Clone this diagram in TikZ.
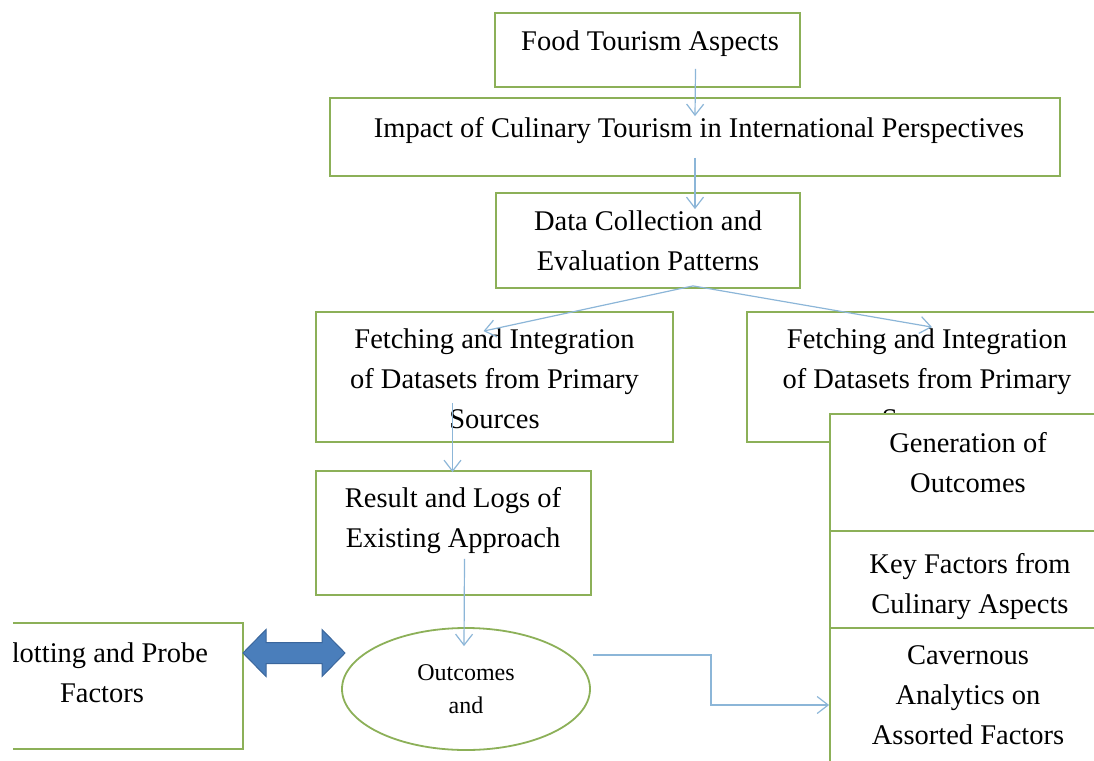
\documentclass[tikz,border=0pt]{standalone}
\usepackage{fontspec}
\setmainfont{Liberation Serif}
\usetikzlibrary{calc,arrows.meta,shapes.geometric}
\definecolor{boxgreen}{RGB}{140,176,88}
\definecolor{linkblue}{RGB}{140,182,216}
\definecolor{fatblue}{RGB}{74,126,187}
\definecolor{fatedge}{RGB}{58,102,156}
\tikzset{
	box/.style={draw=boxgreen, line width=1.8pt, fill=white, inner sep=0pt},
	txt/.style={anchor=north, align=center, inner sep=0pt, font=\fontsize{28.5}{40}\selectfont},
	link/.style={draw=linkblue, line width=1.2pt, -{Straight Barb[length=11pt,width=17pt]}},
}

\begin{document}
\begin{tikzpicture}[x=1pt, y=-1pt]
			%%%%% START %%%%%
			
			\useasboundingbox (0, 0) rectangle (1094, 760);
			\clip (0, 0) rectangle (1094, 760);
			
			\node[box, minimum width=305pt, minimum height=74pt] (food) at (647.5, 50) {};
			\node[txt] (food-t) at (650, 30.5) {Food Tourism Aspects};
			
			\node[box, minimum width=730pt, minimum height=78pt] (impact) at (695, 137) {};
			\node[txt] (impact-t) at (699, 117.5) {Impact of Culinary Tourism in International Perspectives};
			
			\node[box, minimum width=304pt, minimum height=95pt] (data) at (648, 240.5) {};
			\node[txt] (data-t) at (648, 210.5) {Data Collection and\\Evaluation Patterns};
			
			\node[box, minimum width=357pt, minimum height=130pt] (fetchL) at (494.5, 377) {};
			\node[txt] (fetchL-t) at (494.5, 328.5) {Fetching and Integration\\of Datasets from Primary\\Sources};
			
			\node[box, minimum width=360pt, minimum height=130pt] (fetchR) at (927, 377) {};
			\node[txt] (fetchR-t) at (927, 328.5) {Fetching and Integration\\of Datasets from Primary\\Sources};
			
			\node[box, minimum width=275pt, minimum height=124pt] (result) at (453.5, 533) {};
			\node[txt] (result-t) at (453, 487.5) {Result and Logs of\\Existing Approach};
			
			\node[box, minimum width=276pt, minimum height=126pt] (plot) at (105, 686) {};
			\node[txt] (plot-t) at (102, 642.5) {Plotting and Probe\\Factors};
			% the left strip is cut off
			\fill[white] (0, 600) rectangle (12.5, 760);
			
			\node[box, ellipse, minimum width=248pt, minimum height=122pt, font=\fontsize{24}{33}\selectfont, align=center] (outc) at (466, 689) {Outcomes\\and};
			
			% right column, stacked over the second fetching box
			\node[box, minimum width=276pt, minimum height=117pt] (gen) at (968, 472.5) {};
			\node[txt] (gen-t) at (968, 432.5) {Generation of\\Outcomes};
			
			\node[box, minimum width=276pt, minimum height=97pt] (key) at (968, 579.5) {};
			\node[txt] (key-t) at (970, 553.5) {Key Factors from\\Culinary Aspects};
			
			\node[box, minimum width=276pt, minimum height=154pt] (cav) at (968, 705) {};
			\node[txt] (cav-t) at (968, 645.5) {Cavernous\\Analytics on\\Assorted Factors};
			
			% connectors
			\draw[link] ($(food.south)+(48,-19)$) -- ($(impact.north)+(0,19)$);
			\draw[link] ($(impact.south)+(0,-19)$) -- ($(data.north)+(47,17)$);
			\draw[link] ($(data.south)+(45,-3)$) -- ($(fetchL.north)+(-11,20)$);
			\draw[link] ($(data.south)+(45,-3)$) -- ($(fetchR.north)+(5,16)$);
			\draw[link] ($(fetchL.south)+(-42,-40)$) -- ($(result.north)+(-1,2)$);
			\draw[link] ($(result.south)+(11,-37)$) -- ($(outc.north)+(-2,19)$);
			\draw[link] ($(outc.east)+(2,-34)$) -- ++(118, 0) |- (cav.west);
			
			% fat double arrow
			\draw[fill=fatblue, draw=fatedge, line width=1pt] (243, 653) -- (266, 629.5) -- (266, 642.5) -- (322, 642.5) -- (322, 629.5) -- (345, 653) -- (322, 676.5) -- (322, 663.5) -- (266, 663.5) -- (266, 676.5) -- cycle;
			
			%%%%% END %%%%%
\end{tikzpicture}
\end{document}
